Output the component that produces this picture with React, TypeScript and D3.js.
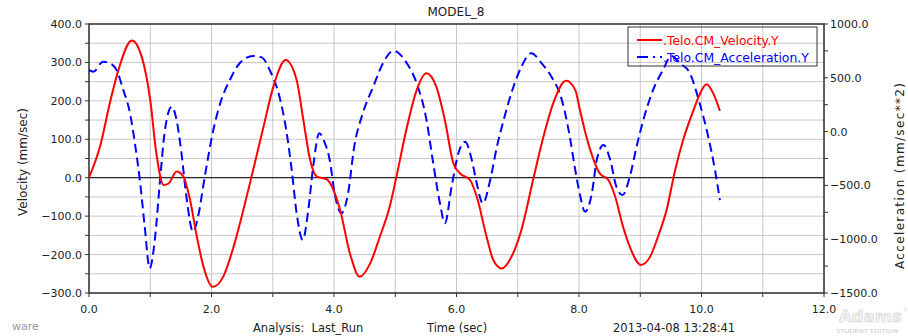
import React from "react";
import * as d3 from "d3";

const velT = [0,0.18,0.34,0.48,0.70,0.86,1.00,1.10,1.22,1.30,1.43,1.54,1.65,1.76,1.87,2.02,2.19,2.36,2.52,2.68,2.85,3.01,3.21,3.39,3.50,3.61,3.72,3.88,4.10,4.26,4.42,4.59,4.75,4.91,5.02,5.18,5.35,5.51,5.67,5.81,5.95,6.06,6.22,6.33,6.49,6.60,6.74,6.90,7.06,7.25,7.42,7.58,7.79,7.94,8.01,8.12,8.24,8.34,8.48,8.59,8.72,8.83,9.01,9.16,9.29,9.43,9.57,9.70,9.87,9.98,10.08,10.19,10.30];
const velV = [0,81,194,280,357,315,202,63,-19,-15,16,3,-58,-153,-232,-284,-258,-180,-84,20,133,237,306,254,150,46,3,-4,-84,-197,-258,-223,-153,-75,3,124,228,272,237,150,37,11,-6,-49,-153,-214,-236,-205,-136,-6,107,194,252,228,180,107,46,11,-6,-49,-128,-180,-227,-206,-153,-84,20,98,176,220,243,220,174];

const accT = [0,0.07,0.23,0.34,0.45,0.56,0.67,0.75,0.83,0.91,0.99,1.08,1.16,1.24,1.35,1.43,1.51,1.59,1.70,1.78,1.89,2.03,2.16,2.30,2.46,2.68,2.82,2.95,3.11,3.22,3.31,3.39,3.49,3.58,3.66,3.76,3.84,3.93,4.01,4.12,4.23,4.33,4.47,4.64,4.80,4.97,5.19,5.35,5.51,5.62,5.73,5.81,5.92,6.03,6.14,6.25,6.33,6.43,6.55,6.66,6.77,6.93,7.06,7.22,7.39,7.55,7.72,7.85,7.93,8.01,8.10,8.21,8.29,8.40,8.51,8.61,8.71,8.83,8.94,9.05,9.21,9.37,9.51,9.65,9.81,9.97,10.11,10.22,10.30];
const accA = [572,557,650,635,572,387,170,-109,-450,-884,-1271,-977,-450,15,231,108,-202,-605,-930,-791,-419,15,294,480,635,703,690,572,324,15,-357,-759,-1007,-729,-326,-16,-90,-264,-573,-759,-573,-140,170,417,635,752,635,449,108,-295,-666,-852,-512,-202,-94,-264,-480,-666,-450,-140,108,417,603,728,635,510,294,-47,-326,-573,-744,-573,-264,-125,-264,-512,-589,-419,-140,108,387,572,703,635,542,263,-47,-357,-636];

const xTickLabels = [0, 2, 4, 6, 8, 10, 12];
const velTickLabels = [-300, -200, -100, 0, 100, 200, 300, 400];
const accTickLabels = [-1500, -1000, -500, 0, 500, 1000];

const seriesNames = [".Telo.CM_Velocity.Y", ".Telo.CM_Acceleration.Y"];

const L = 89, R = 824, T = 24, B = 293;
const FONT = "'DejaVu Sans', Verdana, sans-serif";

export default function App() {
  const x = d3.scaleLinear().domain([0, 12]).range([L, R]);
  const yV = d3.scaleLinear().domain([-300, 400]).range([B, T]);
  const yA = d3.scaleLinear().domain([-1500, 1000]).range([B, T]);

  const velLine = d3.line<number>().x((_, i) => x(velT[i])).y((d) => yV(d)).curve(d3.curveMonotoneX);
  const accLine = d3.line<number>().x((_, i) => x(accT[i])).y((d) => yA(d)).curve(d3.curveMonotoneX);

  const xGrid = d3.range(0, 13, 1);
  const yGrid = d3.range(-300, 401, 50);
  const accMinor = d3.range(-1500, 1001, 250);
  const fmt = d3.format(".1f");

  return (
    <svg width={908} height={336} style={{ position: "absolute", left: 0, top: 0, background: "#fff" }} fontFamily={FONT}>
      <rect x={0} y={0} width={908} height={336} fill="#fff" />
      {xGrid.map((t) => (
        <line key={"gx" + t} x1={x(t)} x2={x(t)} y1={T} y2={B} stroke="#c8c8c8" strokeWidth={1} />
      ))}
      {yGrid.map((v) => (
        <line key={"gy" + v} x1={L} x2={R} y1={yV(v)} y2={yV(v)} stroke="#c8c8c8" strokeWidth={1} />
      ))}
      <line x1={L} x2={R} y1={yV(0)} y2={yV(0)} stroke="#000" strokeWidth={1} />
      <rect x={L} y={T} width={R - L} height={B - T} fill="none" stroke="#333" strokeWidth={1.5} />

      {yGrid.map((v) => (
        <line key={"lt" + v} x1={L - 4} x2={L} y1={yV(v)} y2={yV(v)} stroke="#333" strokeWidth={1} />
      ))}
      {velTickLabels.map((v) => (
        <text key={"ll" + v} x={L - 7} y={yV(v) + 4} fontSize={11} textAnchor="end" fill="#222">
          {fmt(v)}
        </text>
      ))}
      {accMinor.map((v) => (
        <line key={"rt" + v} x1={R} x2={R + 4} y1={yA(v)} y2={yA(v)} stroke="#333" strokeWidth={1} />
      ))}
      {accTickLabels.map((v) => (
        <text key={"rl" + v} x={R + 6} y={yA(v) + 4} fontSize={11} textAnchor="start" fill="#222">
          {fmt(v)}
        </text>
      ))}
      {xGrid.map((t) => (
        <line key={"bt" + t} x1={x(t)} x2={x(t)} y1={B} y2={B + 4} stroke="#333" strokeWidth={1} />
      ))}
      {xTickLabels.map((t) => (
        <text key={"bl" + t} x={x(t)} y={313} fontSize={11} textAnchor="middle" fill="#222">
          {fmt(t)}
        </text>
      ))}

      <path d={accLine(accA) || ""} fill="none" stroke="#0000ff" strokeWidth={2} strokeDasharray="9,5" />
      <path d={velLine(velV) || ""} fill="none" stroke="#ff0000" strokeWidth={2} />

      <rect x={628} y={27} width={189} height={39} fill="none" stroke="#333" strokeWidth={1} />
      <line x1={637} x2={662} y1={40} y2={40} stroke="#ff0000" strokeWidth={2} />
      <text x={663} y={45} fontSize={12.4} fill="#ff0000">{seriesNames[0]}</text>
      <line x1={637} x2={662} y1={57} y2={57} stroke="#0000ff" strokeWidth={2} strokeDasharray="11,5,2,5" />
      <text x={663} y={62} fontSize={12.4} fill="#0000ff">{seriesNames[1]}</text>

      <text x={456} y={16} fontSize={12} textAnchor="middle" fill="#222">MODEL_8</text>
      <text transform="translate(27,162) rotate(-90)" fontSize={12} textAnchor="middle" fill="#222">
        Velocity (mm/sec)
      </text>
      <text transform="translate(904,176) rotate(-90)" fontSize={12} textAnchor="middle" fill="#222"
        textLength={186} lengthAdjust="spacing">
        Acceleration (mm/sec**2)
      </text>

      <text x={12} y={330} fontSize={11} fill="#999">ware</text>
      <text x={253} y={332} fontSize={11.5} fill="#222" xmlSpace="preserve">Analysis:  Last_Run</text>
      <text x={427} y={332} fontSize={11.5} fill="#222">Time (sec)</text>
      <text x={613} y={332} fontSize={11.5} fill="#222">2013-04-08 13:28:41</text>
      <text x={839} y={322} fontSize={16.5} fontWeight="bold" fill="#f4f4f4" stroke="#d0d0d0" strokeWidth={0.6}>Adams</text>
      <text x={903} y={311} fontSize={5} fill="#d0d0d0">®</text>
      <text x={836} y={333} fontSize={5.5} fill="#c8c8c8" textLength={62} lengthAdjust="spacingAndGlyphs">STUDENT EDITION</text>
    </svg>
  );
}
